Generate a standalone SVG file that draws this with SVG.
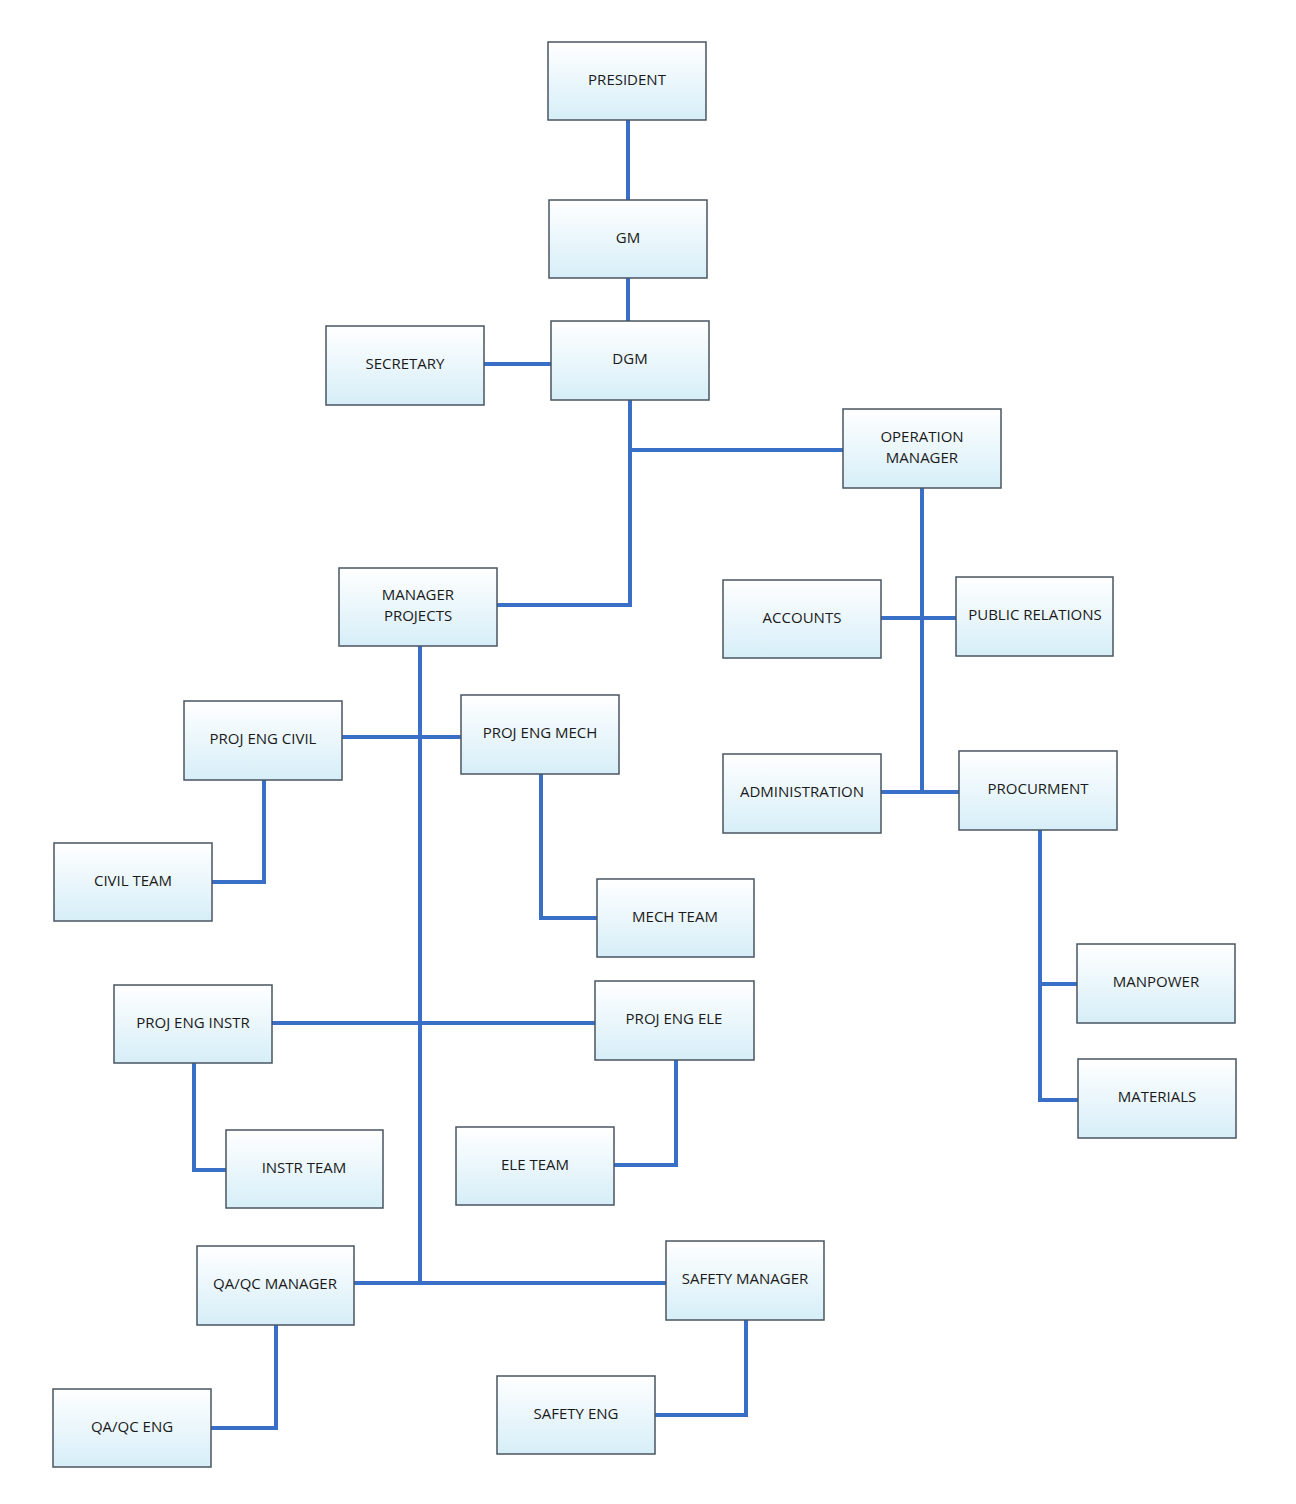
<svg xmlns="http://www.w3.org/2000/svg" width="1296" height="1504" viewBox="0 0 1296 1504">
<style>
.b{fill:url(#g);stroke:#4a5560;stroke-width:1.5}
.t{font-family:"Open Sans","Liberation Sans",sans-serif;font-size:15px;fill:#1a1a1a;text-anchor:middle;dominant-baseline:middle}
.c{fill:none;stroke:#3a6fc8;stroke-width:4}
</style>
<defs><linearGradient id="g" x1="0" y1="0" x2="0" y2="1"><stop offset="0" stop-color="#ffffff"/><stop offset="1" stop-color="#d6eef8"/></linearGradient></defs>
<rect width="1296" height="1504" fill="#fff"/>
<g id="connectors" class="c">
<path d="M628 120V200M628 278V321M484 364H551M630 400V605H497M630 450H843M922 488V792M881 618H956M881 792H959M1040 830V1100H1078M1040 984H1077M420 646V1283M342 737H461M272 1023H595M354 1283H666M264 780V882H212M541 774V918H597M194 1063V1170H226M676 1060V1165H614M276 1325V1428H211M746 1320V1415H655"/>
</g>
<g id="president"><rect class="b" x="548" y="42" width="158" height="78"/><text class="t" x="627" y="81">PRESIDENT</text></g>
<g id="gm"><rect class="b" x="549" y="200" width="158" height="78"/><text class="t" x="628" y="239">GM</text></g>
<g id="dgm"><rect class="b" x="551" y="321" width="158" height="79"/><text class="t" x="630" y="360">DGM</text></g>
<g id="secretary"><rect class="b" x="326" y="326" width="158" height="79"/><text class="t" x="405" y="365">SECRETARY</text></g>
<g id="opman"><rect class="b" x="843" y="409" width="158" height="79"/><text class="t" x="922" y="438">OPERATION</text><text class="t" x="922" y="459">MANAGER</text></g>
<g id="manproj"><rect class="b" x="339" y="568" width="158" height="78"/><text class="t" x="418" y="596">MANAGER</text><text class="t" x="418" y="617">PROJECTS</text></g>
<g id="accounts"><rect class="b" x="723" y="580" width="158" height="78"/><text class="t" x="802" y="619">ACCOUNTS</text></g>
<g id="pr"><rect class="b" x="956" y="577" width="157" height="79"/><text class="t" x="1035" y="616">PUBLIC RELATIONS</text></g>
<g id="admin"><rect class="b" x="723" y="754" width="158" height="79"/><text class="t" x="802" y="793">ADMINISTRATION</text></g>
<g id="procurment"><rect class="b" x="959" y="751" width="158" height="79"/><text class="t" x="1038" y="790">PROCURMENT</text></g>
<g id="pecivil"><rect class="b" x="184" y="701" width="158" height="79"/><text class="t" x="263" y="740">PROJ ENG CIVIL</text></g>
<g id="pemech"><rect class="b" x="461" y="695" width="158" height="79"/><text class="t" x="540" y="734">PROJ ENG MECH</text></g>
<g id="civilteam"><rect class="b" x="54" y="843" width="158" height="78"/><text class="t" x="133" y="882">CIVIL TEAM</text></g>
<g id="mechteam"><rect class="b" x="597" y="879" width="157" height="78"/><text class="t" x="675" y="918">MECH TEAM</text></g>
<g id="manpower"><rect class="b" x="1077" y="944" width="158" height="79"/><text class="t" x="1156" y="983">MANPOWER</text></g>
<g id="materials"><rect class="b" x="1078" y="1059" width="158" height="79"/><text class="t" x="1157" y="1098">MATERIALS</text></g>
<g id="peinstr"><rect class="b" x="114" y="985" width="158" height="78"/><text class="t" x="193" y="1024">PROJ ENG INSTR</text></g>
<g id="peele"><rect class="b" x="595" y="981" width="159" height="79"/><text class="t" x="674" y="1020">PROJ ENG ELE</text></g>
<g id="instrteam"><rect class="b" x="226" y="1130" width="157" height="78"/><text class="t" x="304" y="1169">INSTR TEAM</text></g>
<g id="eleteam"><rect class="b" x="456" y="1127" width="158" height="78"/><text class="t" x="535" y="1166">ELE TEAM</text></g>
<g id="qaqcman"><rect class="b" x="197" y="1246" width="157" height="79"/><text class="t" x="275" y="1285">QA/QC MANAGER</text></g>
<g id="safetyman"><rect class="b" x="666" y="1241" width="158" height="79"/><text class="t" x="745" y="1280">SAFETY MANAGER</text></g>
<g id="qaqceng"><rect class="b" x="53" y="1389" width="158" height="78"/><text class="t" x="132" y="1428">QA/QC ENG</text></g>
<g id="safetyeng"><rect class="b" x="497" y="1376" width="158" height="78"/><text class="t" x="576" y="1415">SAFETY ENG</text></g>
</svg>
